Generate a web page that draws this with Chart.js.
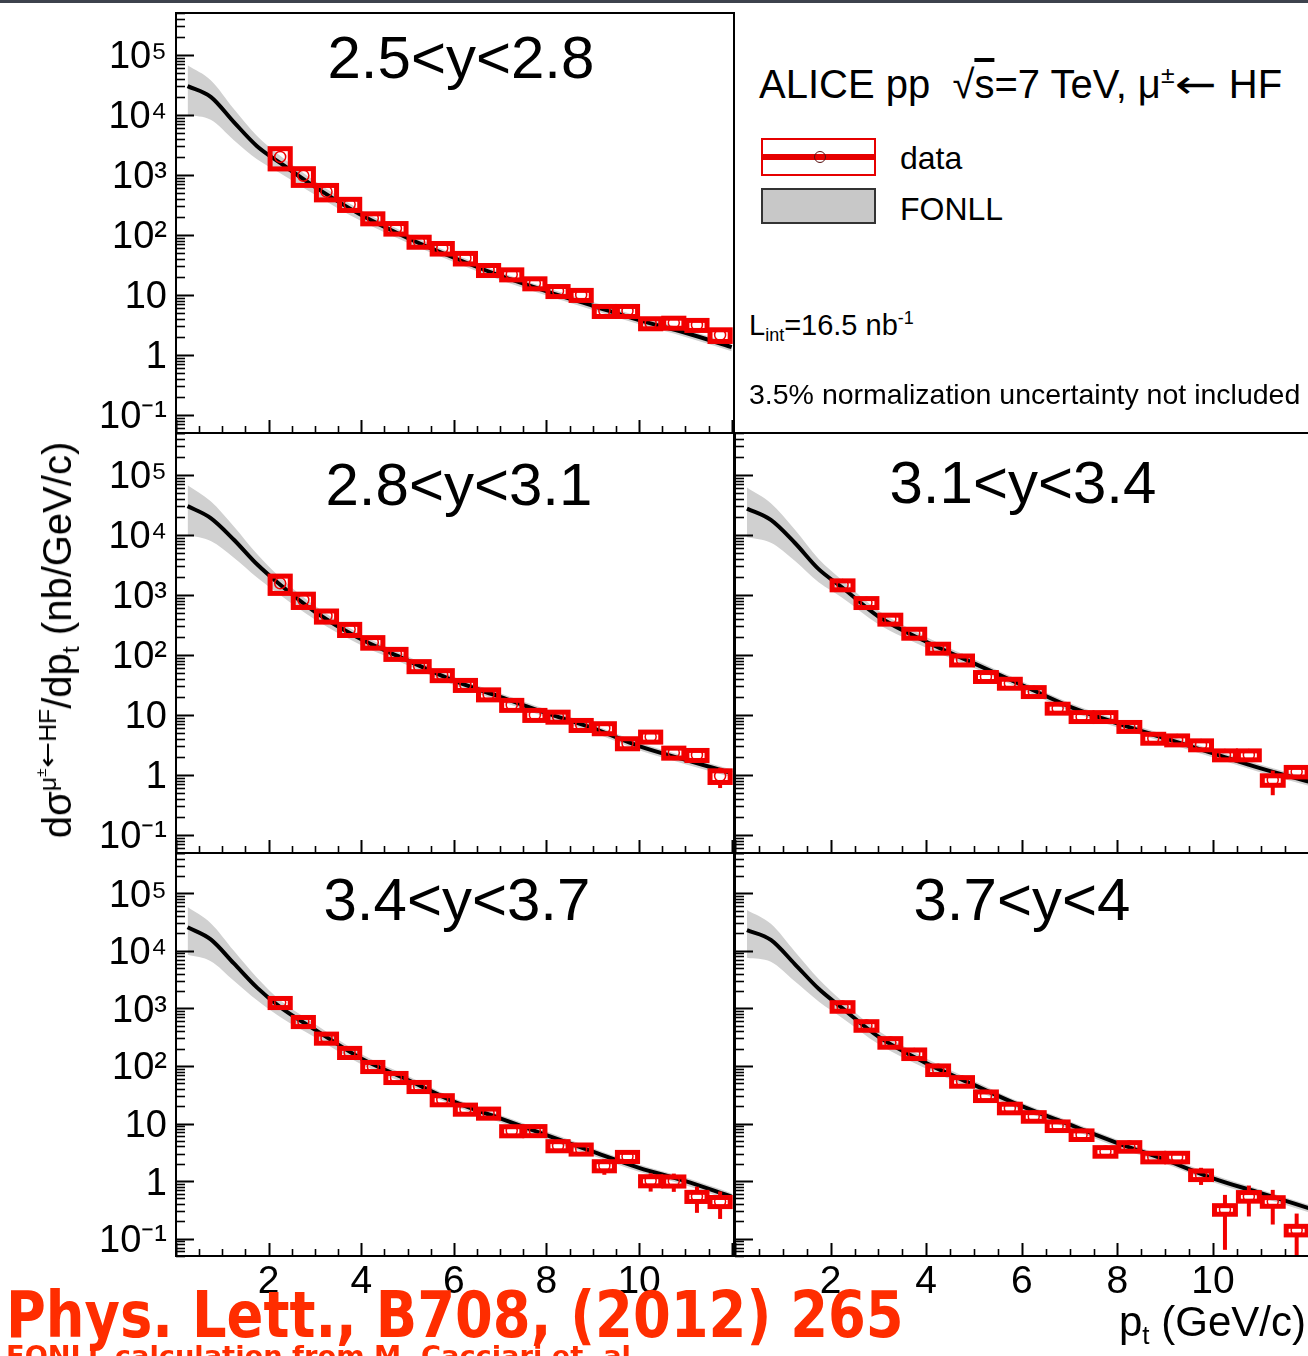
<!DOCTYPE html>
<html lang="en">
<head>
<meta charset="utf-8">
<title>Heavy-flavour decay muon pT-differential cross sections, pp at 7 TeV</title>
<script src="https://cdn.jsdelivr.net/npm/chart.js@4.4.1/dist/chart.umd.min.js"></script>
<style>
  html, body { margin: 0; padding: 0; background: #fff; overflow: hidden; }
  #page { position: relative; width: 1308px; height: 1356px; overflow: hidden; background: #fff;
          font-family: "Liberation Sans", Arial, Helvetica, sans-serif; color: #000; }
  #topbar { position: absolute; left: 0; top: 0; width: 1308px; height: 3px; background: #3d424d; }
  canvas.pad { position: absolute; }
  .t { position: absolute; white-space: nowrap; line-height: 1; left: 0; top: 0; }
  .t sup { font-size: 0.62em; vertical-align: 0.62em; line-height: 0; }
  .t sub { font-size: 0.62em; vertical-align: -0.32em; line-height: 0; }
  .arrow { font-family: "DejaVu Sans", sans-serif; display: inline-block; transform: scaleX(1.25); margin: 0 0.12em; }
  .cite { font-family: "Comic Sans MS", "DejaVu Sans", sans-serif; font-weight: bold; color: #ff2d00; }
  #ytitle { position: absolute; left: 57px; top: 640px; white-space: nowrap; line-height: 1;
            font-size: 40px; transform: translate(-50%, -50%) rotate(-90deg); }
  #ytitle sup { font-size: 0.62em; vertical-align: 0.62em; line-height: 0; }
  #ytitle sub { font-size: 0.62em; vertical-align: -0.32em; line-height: 0; }
  .lg { position: absolute; box-sizing: border-box; }
</style>
</head>
<body>
<div id="page">
  <div id="topbar"></div>
  <canvas id="c1" class="pad"></canvas>
  <canvas id="c2" class="pad"></canvas>
  <canvas id="c3" class="pad"></canvas>
  <canvas id="c4" class="pad"></canvas>
  <canvas id="c5" class="pad"></canvas>

  <div class="t" data-cx="461" data-base="78" style="font-size:60px">2.5&lt;y&lt;2.8</div>
  <div class="t" data-cx="459" data-base="505" style="font-size:60px">2.8&lt;y&lt;3.1</div>
  <div class="t" data-cx="1023" data-base="503" style="font-size:60px">3.1&lt;y&lt;3.4</div>
  <div class="t" data-cx="457" data-base="920" style="font-size:60px">3.4&lt;y&lt;3.7</div>
  <div class="t" data-cx="1022" data-base="920" style="font-size:60px">3.7&lt;y&lt;4</div>

  <div class="t" data-x="759" data-base="98" style="font-size:40px">ALICE pp&nbsp; √<span style="text-decoration:overline">s</span>=7 TeV, μ<sup>±</sup><span class="arrow">←</span> HF</div>

  <div class="lg" style="left:761px;top:138px;width:115px;height:38px;border:2px solid #e60000;">
    <div style="position:absolute;left:0;right:0;top:14px;height:6px;background:#e60000;"></div>
    <div style="position:absolute;left:51px;top:11px;width:12px;height:12px;border:1.5px solid #5a1010;border-radius:50%;box-sizing:border-box;"></div>
  </div>
  <div class="t" data-x="900" data-base="169" style="font-size:32px">data</div>
  <div class="lg" style="left:761px;top:188px;width:115px;height:36px;background:#c8c8c8;border:2px solid #333;"></div>
  <div class="t" data-x="900" data-base="220" style="font-size:32px">FONLL</div>

  <div class="t" data-x="749" data-base="335" style="font-size:29px">L<sub>int</sub>=16.5 nb<sup>-1</sup></div>
  <div class="t" data-x="749" data-base="404" style="font-size:28.5px">3.5% normalization uncertainty not included</div>

  <div id="ytitle">dσ<sup>μ<sup>±</sup><span class="arrow">←</span>HF</sup>/dp<sub>t</sub> (nb/GeV/c)</div>
  <div class="t" data-rx="1306" data-base="1336" style="font-size:42px">p<sub>t</sub> (GeV/c)</div>

  <div class="t cite" data-x="6" data-base="1337" data-w="898" style="font-size:64px">Phys. Lett., B708, (2012) 265</div>
  <div class="t cite" data-x="6" data-base="1365" data-w="625" style="font-size:26px">FONLL calculation from M. Cacciari et. al</div>
</div>

<script>
// ---- transverse-momentum bins (GeV/c) ----
const ptBins = [2.25, 2.75, 3.25, 3.75, 4.25, 4.75, 5.25, 5.75, 6.25, 6.75,
                7.25, 7.75, 8.25, 8.75, 9.25, 9.75, 10.25, 10.75, 11.25, 11.75];
const binHalfWidth = 0.25;

// ---- measured cross sections dσ/dpt (nb/GeV/c), relative syst. and stat. errors ----
const data1 = [2000, 970, 526, 324, 189, 129, 77, 60, 41, 26, 22, 15.6, 11.6, 10, 5.4, 5.4, 3.37, 3.44, 3.16, 2.15];
const sys1  = [0.37, 0.31, 0.27, 0.21, 0.19, 0.2, 0.19, 0.2, 0.2, 0.19, 0.19, 0.19, 0.19, 0.19, 0.19, 0.19, 0.19, 0.19, 0.19, 0.22];
const stat1 = [0.02, 0.02, 0.02, 0.02, 0.03, 0.03, 0.03, 0.04, 0.04, 0.05, 0.05, 0.06, 0.07, 0.08, 0.09, 0.1, 0.11, 0.12, 0.13, 0.15];

const data2 = [1560, 824, 446, 267, 162, 104, 65, 46, 31.6, 22, 14.7, 10, 9.35, 6.8, 6.0, 3.37, 4.35, 2.35, 2.15, 0.96];
const sys2  = [0.32, 0.25, 0.21, 0.21, 0.2, 0.19, 0.19, 0.19, 0.19, 0.19, 0.19, 0.19, 0.19, 0.19, 0.19, 0.19, 0.19, 0.19, 0.19, 0.22];
const stat2 = [0.02, 0.02, 0.02, 0.03, 0.03, 0.03, 0.04, 0.04, 0.05, 0.05, 0.06, 0.07, 0.08, 0.09, 0.1, 0.12, 0.12, 0.14, 0.15, 0.37];

const data3 = [1466, 743, 393, 229, 129, 82, 43.5, 33.6, 24.4, 12.9, 9.35, 9.35, 6.4, 4.07, 3.82, 3.16, 2.15, 2.15, 0.82, 1.13];
const sys3  = [0.17, 0.17, 0.17, 0.17, 0.17, 0.17, 0.17, 0.17, 0.17, 0.17, 0.17, 0.17, 0.17, 0.17, 0.17, 0.17, 0.17, 0.17, 0.18, 0.18];
const stat3 = [0.02, 0.02, 0.02, 0.03, 0.03, 0.04, 0.04, 0.05, 0.05, 0.06, 0.07, 0.07, 0.08, 0.1, 0.1, 0.11, 0.13, 0.14, 0.44, 0.15];

const data4 = [1260, 589, 303, 171, 97.5, 62.8, 43.8, 25.8, 17.7, 15.1, 7.46, 7.5, 4.1, 3.59, 1.84, 2.67, 1.01, 1.0, 0.54, 0.44];
const sys4  = [0.18, 0.18, 0.18, 0.18, 0.18, 0.18, 0.18, 0.18, 0.18, 0.18, 0.18, 0.18, 0.18, 0.18, 0.18, 0.18, 0.18, 0.18, 0.18, 0.18];
const stat4 = [0.02, 0.02, 0.03, 0.03, 0.04, 0.05, 0.05, 0.06, 0.07, 0.08, 0.1, 0.1, 0.12, 0.14, 0.3, 0.15, 0.35, 0.35, 0.48, 0.5];

const data5 = [1074, 502, 255, 162, 85.5, 53.6, 30.2, 18.5, 13.2, 9.1, 6.36, 3.26, 3.98, 2.6, 2.6, 1.28, 0.32, 0.54, 0.44, 0.14];
const sys5  = [0.17, 0.17, 0.17, 0.17, 0.17, 0.17, 0.17, 0.17, 0.17, 0.17, 0.17, 0.17, 0.17, 0.17, 0.17, 0.17, 0.17, 0.17, 0.17, 0.17];
const stat5 = [0.02, 0.02, 0.03, 0.03, 0.04, 0.05, 0.06, 0.07, 0.08, 0.09, 0.1, 0.12, 0.12, 0.14, 0.15, 0.33, 0.8, 0.55, 0.6, 0.95];

// ---- FONLL prediction: central value and uncertainty band ----
const fonllPt = [0.25, 0.75, 1.25, 1.75, 2.25, 3, 4, 5, 6, 7, 8, 9, 10, 11, 12];

const fonll1   = [30200, 20000, 7590, 3020, 1585, 631, 214, 89, 41.7, 20.9, 11.5, 6.6, 3.8, 2.34, 1.35];
const fonll1Hi = [67600, 38000, 12600, 4470, 2090, 794, 257, 105, 47.9, 24.0, 13.2, 7.59, 4.37, 2.69, 1.55];
const fonll1Lo = [10000, 8320, 3800, 1820, 1070, 468, 170, 74.1, 35.5, 17.8, 9.77, 5.62, 3.24, 2.0, 1.15];

const fonll2   = [30200, 19100, 8320, 3240, 1480, 525, 182, 81.3, 37.2, 20.0, 10.7, 6.03, 3.02, 1.78, 1.07];
const fonll2Hi = [67600, 36300, 13800, 4790, 1950, 661, 219, 95.5, 42.7, 22.9, 12.3, 6.92, 3.47, 2.04, 1.23];
const fonll2Lo = [10000, 7940, 4170, 1950, 1000, 389, 145, 67.6, 31.6, 17.0, 9.12, 5.13, 2.57, 1.51, 0.912];

const fonll3   = [27500, 17800, 7410, 2690, 1320, 437, 166, 72.4, 31.6, 13.8, 7.24, 4.07, 2.29, 1.29, 0.776];
const fonll3Hi = [61700, 33900, 12300, 3980, 1740, 550, 200, 85.1, 36.3, 15.8, 8.32, 4.68, 2.63, 1.48, 0.891];
const fonll3Lo = [9120, 7410, 3720, 1620, 891, 324, 132, 60.3, 26.9, 11.7, 6.17, 3.47, 1.95, 1.10, 0.661];

const fonll4   = [25700, 15800, 6030, 2290, 1050, 427, 135, 57.5, 24.0, 12.3, 6.31, 3.24, 1.70, 1.0, 0.537];
const fonll4Hi = [57500, 30200, 10000, 3390, 1380, 537, 162, 67.6, 27.5, 14.1, 7.24, 3.72, 1.95, 1.15, 0.617];
const fonll4Lo = [8510, 6610, 3020, 1380, 708, 316, 107, 47.9, 20.4, 10.5, 5.37, 2.75, 1.45, 0.851, 0.457];

const fonll5   = [22900, 15500, 5890, 2190, 1000, 324, 112, 46.8, 20.0, 9.55, 4.57, 2.34, 1.12, 0.617, 0.339];
const fonll5Hi = [51300, 29500, 9770, 3240, 1320, 407, 135, 55.0, 22.9, 11.0, 5.25, 2.69, 1.29, 0.708, 0.389];
const fonll5Lo = [7590, 6460, 2950, 1320, 676, 240, 89.1, 38.9, 17.0, 8.13, 3.89, 2.0, 0.955, 0.525, 0.288];

// ---- axis ranges and tick labels ----
const xRange = [0, 12.05];
const yRange = [0.05, 5e5];
const xLabelValues = [2, 4, 6, 8, 10];
const xLabelTexts  = ['2', '4', '6', '8', '10'];
const yLabelValues = [0.1, 1, 10, 100, 1000, 10000, 100000];
const yLabelTexts  = ['10⁻¹', '1', '10', '10²', '10³', '10⁴', '10⁵'];

// ---- page layout of the five pads ----
const colFrames = [{ left: 176, right: 734 }, { left: 734, right: 1311 }];
const rowFrames = [{ top: 13, bottom: 433 }, { top: 433, bottom: 853 }, { top: 853, bottom: 1256 }];

const panels = [
  { id: 'c1', col: 0, row: 0, data: data1, sys: sys1, stat: stat1, mid: fonll1, hi: fonll1Hi, lo: fonll1Lo },
  { id: 'c2', col: 0, row: 1, data: data2, sys: sys2, stat: stat2, mid: fonll2, hi: fonll2Hi, lo: fonll2Lo },
  { id: 'c3', col: 1, row: 1, data: data3, sys: sys3, stat: stat3, mid: fonll3, hi: fonll3Hi, lo: fonll3Lo },
  { id: 'c4', col: 0, row: 2, data: data4, sys: sys4, stat: stat4, mid: fonll4, hi: fonll4Hi, lo: fonll4Lo },
  { id: 'c5', col: 1, row: 2, data: data5, sys: sys5, stat: stat5, mid: fonll5, hi: fonll5Hi, lo: fonll5Lo }
];

const RED = '#f20000';
const BAND = '#d0d0d0';
const FONT = '"Liberation Sans", Arial, Helvetica, sans-serif';

Chart.defaults.font.family = FONT;
Chart.defaults.animation = false;

// tick positions (ROOT style: log minors 2..9 per decade, linear minors every 0.5)
const yTickPositions = [];
for (let e = -2; e <= 5; e++) {
  for (let m = 1; m <= 9; m++) {
    const v = m * Math.pow(10, e);
    if (v >= yRange[0] * 0.999 && v <= yRange[1] * 1.001) yTickPositions.push(+v.toPrecision(6));
  }
}
const xTickPositions = [];
for (let v = 0; v <= 12.0001; v += 0.5) xTickPositions.push(+v.toFixed(2));

const isDecade = v => Math.abs(Math.log10(v) - Math.round(Math.log10(v))) < 1e-6;
const isXMajor = v => Math.abs(v / 2 - Math.round(v / 2)) < 1e-6;

function labelFor(values, texts, v) {
  const i = values.findIndex(u => Math.abs(u - v) < 1e-9 * Math.max(1, Math.abs(u)));
  return i >= 0 ? texts[i] : '';
}

// inward ticks + frame, drawn from the chart's own scales
const rootFrame = {
  id: 'rootFrame',
  afterDraw(chart) {
    const { ctx, chartArea: a, scales: { x, y } } = chart;
    ctx.save();
    ctx.strokeStyle = '#000';
    ctx.lineCap = 'butt';
    y.ticks.forEach(t => {
      const py = Math.round(y.getPixelForValue(t.value)) + 0.5;
      if (py < a.top - 0.5 || py > a.bottom + 0.5) return;
      const major = isDecade(t.value);
      ctx.lineWidth = major ? 2 : 1.6;
      ctx.beginPath();
      ctx.moveTo(a.left, py);
      ctx.lineTo(a.left + (major ? 18 : 9), py);
      ctx.stroke();
    });
    x.ticks.forEach(t => {
      const px = Math.round(x.getPixelForValue(t.value)) + 0.5;
      const major = isXMajor(t.value);
      ctx.lineWidth = major ? 2 : 1.6;
      ctx.beginPath();
      ctx.moveTo(px, a.bottom);
      ctx.lineTo(px, a.bottom - (major ? 13 : 7));
      ctx.stroke();
    });
    ctx.lineWidth = 2;
    ctx.strokeRect(a.left, a.top, a.right - a.left, a.bottom - a.top);
    ctx.restore();
  }
};

// systematic-uncertainty boxes and statistical error bars for the data points
const errorBoxes = {
  id: 'errorBoxes',
  beforeDatasetDraw(chart, args) {
    const ds = chart.data.datasets[args.index];
    if (!ds.sysRel) return;
    const { ctx, chartArea: a, scales: { x, y } } = chart;
    ctx.save();
    ctx.beginPath();
    ctx.rect(a.left, a.top, a.right - a.left, a.bottom - a.top);
    ctx.clip();
    ctx.strokeStyle = RED;
    ds.data.forEach((p, i) => {
      const s = ds.sysRel[i], e = ds.statRel[i];
      const x0 = x.getPixelForValue(p.x - binHalfWidth);
      const x1 = x.getPixelForValue(p.x + binHalfWidth);
      const xc = x.getPixelForValue(p.x);
      const bTop = y.getPixelForValue(p.y * (1 + s));
      const bBot = y.getPixelForValue(p.y * (1 - s));
      const eTop = y.getPixelForValue(p.y * (1 + e));
      const eBot = y.getPixelForValue(Math.max(p.y * (1 - e), y.min * 0.5));
      ctx.lineWidth = 4;
      if (eTop < bTop) { ctx.beginPath(); ctx.moveTo(xc, bTop); ctx.lineTo(xc, eTop); ctx.stroke(); }
      if (eBot > bBot) { ctx.beginPath(); ctx.moveTo(xc, bBot); ctx.lineTo(xc, eBot); ctx.stroke(); }
      ctx.lineWidth = 5;
      ctx.strokeRect(x0 + 1.5, bTop, x1 - x0 - 3, bBot - bTop);
    });
    ctx.restore();
  }
};

const pts = (xs, ys) => xs.map((v, i) => ({ x: v, y: ys[i] }));

function buildPanel(p) {
  const cf = colFrames[p.col], rf = rowFrames[p.row];
  const pad = { l: p.col === 0 ? 176 : 6, r: 8, t: 40, b: p.row === 2 ? 70 : 40 };
  const fw = cf.right - cf.left, fh = rf.bottom - rf.top;
  const cv = document.getElementById(p.id);
  const W = fw + pad.l + pad.r, H = fh + pad.t + pad.b;
  cv.width = W; cv.height = H;
  cv.style.width = W + 'px'; cv.style.height = H + 'px';
  cv.style.left = (cf.left - pad.l) + 'px';
  cv.style.top = (rf.top - pad.t) + 'px';

  return new Chart(cv, {
    type: 'scatter',
    data: {
      datasets: [
        { type: 'line', label: 'FONLL upper', data: pts(fonllPt, p.hi), borderWidth: 0, pointRadius: 0,
          fill: '+1', backgroundColor: BAND, borderColor: BAND, cubicInterpolationMode: 'monotone', order: 3 },
        { type: 'line', label: 'FONLL lower', data: pts(fonllPt, p.lo), borderWidth: 0, pointRadius: 0,
          fill: false, borderColor: BAND, cubicInterpolationMode: 'monotone', order: 3 },
        { type: 'line', label: 'FONLL', data: pts(fonllPt, p.mid), borderWidth: 4, borderColor: '#000',
          pointRadius: 0, fill: false, cubicInterpolationMode: 'monotone', order: 2 },
        { type: 'scatter', label: 'data', data: pts(ptBins, p.data), sysRel: p.sys, statRel: p.stat,
          pointRadius: 5.5, pointBorderWidth: 1.5, pointBorderColor: RED,
          pointBackgroundColor: 'rgba(0,0,0,0)', order: 1 }
      ]
    },
    options: {
      responsive: false,
      maintainAspectRatio: false,
      animation: false,
      events: [],
      layout: { padding: { top: pad.t, right: pad.r, left: 0, bottom: 0 } },
      plugins: { legend: { display: false }, tooltip: { enabled: false }, title: { display: false } },
      scales: {
        x: {
          type: 'linear', min: xRange[0], max: xRange[1],
          grid: { display: false, drawTicks: false },
          border: { display: false },
          afterBuildTicks: s => { s.ticks = xTickPositions.map(v => ({ value: v })); },
          afterFit: s => { s.height = pad.b; },
          ticks: {
            display: p.row === 2, autoSkip: false, maxRotation: 0, minRotation: 0,
            padding: 3, color: '#000', font: { family: FONT, size: 39 },
            callback: v => labelFor(xLabelValues, xLabelTexts, v)
          }
        },
        y: {
          type: 'logarithmic', min: yRange[0], max: yRange[1],
          grid: { display: false, drawTicks: false },
          border: { display: false },
          afterBuildTicks: s => { s.ticks = yTickPositions.map(v => ({ value: v })); },
          afterFit: s => { s.width = pad.l; },
          ticks: {
            display: p.col === 0, autoSkip: false, padding: 9, labelOffset: 3,
            color: '#000', font: { family: FONT, size: 38 },
            callback: v => labelFor(yLabelValues, yLabelTexts, v)
          }
        }
      }
    },
    plugins: [errorBoxes, rootFrame]
  });
}

panels.forEach(buildPanel);

// annotation text placed by baseline
function placeTexts() {
  document.querySelectorAll('.t[data-base]').forEach(el => {
    const probe = document.createElement('span');
    probe.style.cssText = 'display:inline-block;width:0;height:0;vertical-align:baseline;';
    el.appendChild(probe);
    const off = probe.offsetTop;
    el.removeChild(probe);
    el.style.top = (parseFloat(el.dataset.base) - off) + 'px';
    let w = el.offsetWidth;
    if (el.dataset.w) {
      const k = parseFloat(el.dataset.w) / w;
      el.style.transformOrigin = '0 0';
      el.style.transform = 'scaleX(' + k.toFixed(4) + ')';
      w = parseFloat(el.dataset.w);
    }
    if (el.dataset.cx) el.style.left = (parseFloat(el.dataset.cx) - w / 2) + 'px';
    else if (el.dataset.rx) el.style.left = (parseFloat(el.dataset.rx) - w) + 'px';
    else el.style.left = el.dataset.x + 'px';
  });
}
if (document.fonts && document.fonts.ready) document.fonts.ready.then(placeTexts); else placeTexts();
</script>
</body>
</html>
